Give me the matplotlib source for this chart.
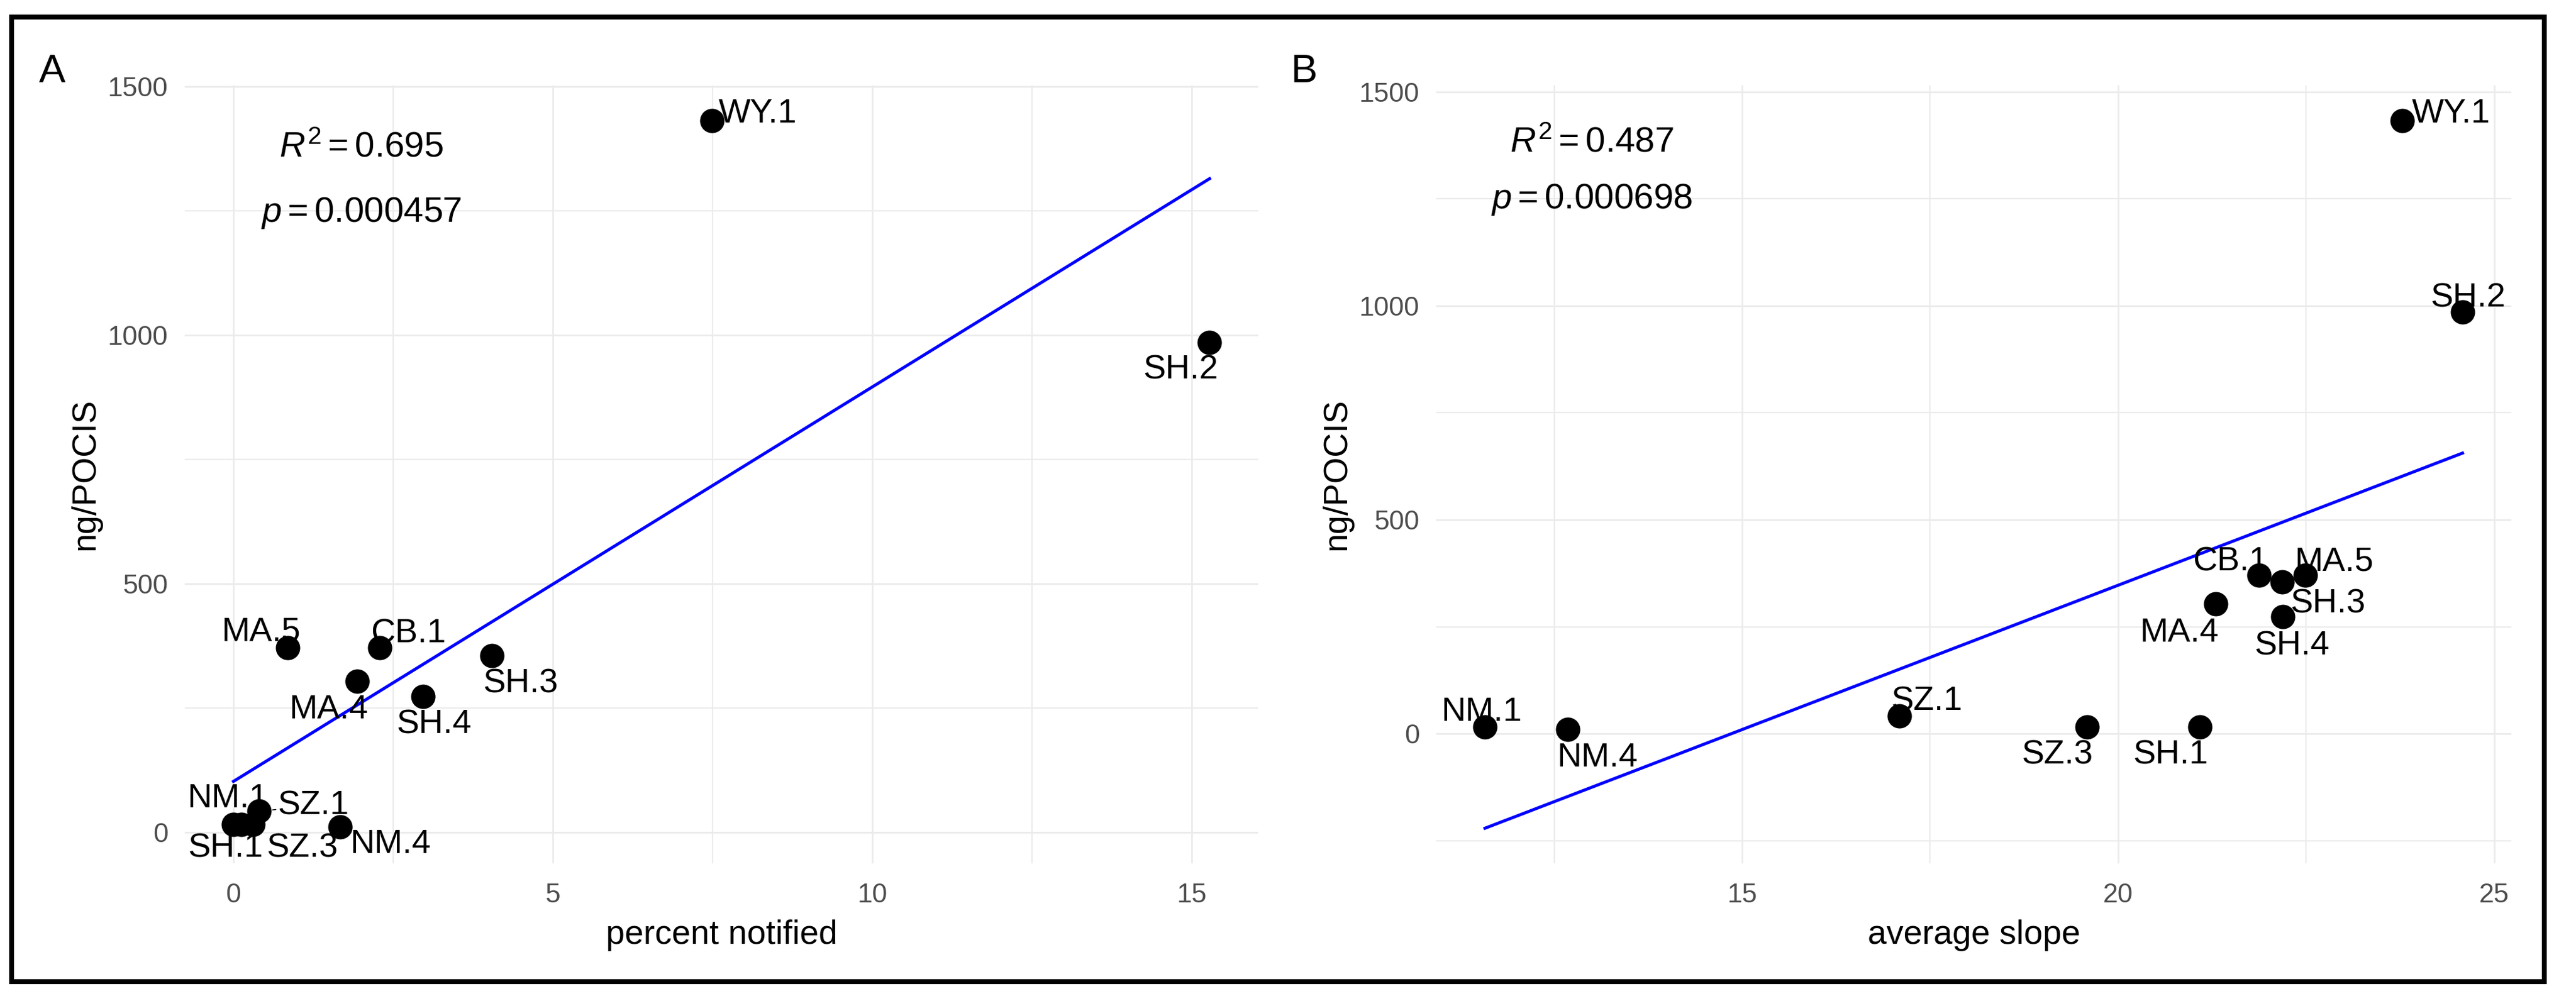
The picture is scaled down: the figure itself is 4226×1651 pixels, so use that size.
import numpy as np
import matplotlib
matplotlib.use("Agg")
import matplotlib.pyplot as plt
from matplotlib.patches import Rectangle

# ---------------- data ----------------
sites = ["WY.1", "SH.2", "MA.5", "CB.1", "MA.4", "SH.4", "SH.3",
         "NM.1", "SH.1", "SZ.3", "SZ.1", "NM.4"]
ng_pocis = [1432, 985, 371, 371, 304, 273, 355, 16, 16, 16, 42, 10]
pct_notified = [7.49, 15.28, 0.85, 2.29, 1.94, 2.97, 4.05, 0.0, 0.12, 0.30, 0.40, 1.67]
avg_slope = [23.78, 24.58, 22.49, 21.87, 21.30, 22.19, 22.18, 11.58, 21.09, 19.59, 17.09, 12.68]

stats_a = ["$R^2 = 0.695$", "$p = 0.000457$"]
stats_b = ["$R^2 = 0.487$", "$p = 0.000698$"]

xticks_a = [0, 5, 10, 15]
xticks_b = [15, 20, 25]
yticks = [0, 500, 1000, 1500]

# label placement (image pixels, centre of label relative to point; +y = down)
offs_a = {"WY.1": (75, -17), "SH.2": (-47, 39), "MA.5": (-44, -32), "CB.1": (47, -29),
          "MA.4": (-47, 41), "SH.4": (18, 40), "SH.3": (47, 40), "NM.1": (-9, -48),
          "SH.1": (-25, 34), "SZ.3": (82, 34), "SZ.1": (89, -15), "NM.4": (83, 23)}
offs_b = {"WY.1": (80, -17), "SH.2": (9, -29), "MA.5": (47, -27), "CB.1": (-47, -27),
          "MA.4": (-60, 42), "SH.4": (15, 42), "SH.3": (75, 31), "NM.1": (-5, -30),
          "SH.1": (-48, 41), "SZ.3": (-49, 41), "SZ.1": (45, -29), "NM.4": (49, 41)}

# ---------------- style ----------------
plt.rcParams['font.family'] = ['Liberation Sans', 'DejaVu Sans']
plt.rcParams['mathtext.fontset'] = 'custom'
plt.rcParams['mathtext.rm'] = 'Liberation Sans'
plt.rcParams['mathtext.it'] = 'Liberation Sans:italic'
plt.rcParams['mathtext.bf'] = 'Liberation Sans:bold'

W, H = 4226, 1651
DPI = 100
fig = plt.figure(figsize=(W / DPI, H / DPI), dpi=DPI, facecolor='white')

grid_col = '#EBEBEB'
tick_col = '#4D4D4D'


def make_panel(rect, xvals, xticks, xminor, yminor, xlim, ylim, xlabel, stats, stat_x, offs, tag, tag_x):
    ax = fig.add_axes(rect)
    ax.set_facecolor('white')
    for s in ax.spines.values():
        s.set_visible(False)
    ax.set_xlim(*xlim)
    ax.set_ylim(*ylim)
    ax.set_xticks(xticks)
    ax.set_yticks(yticks)
    ax.set_xticks(xminor, minor=True)
    ax.set_yticks(yminor, minor=True)
    ax.tick_params(which='both', length=0)
    ax.tick_params(axis='x', pad=23, labelsize=32, labelcolor=tick_col)
    ax.tick_params(axis='y', pad=19.5, labelsize=32, labelcolor=tick_col)
    ax.grid(True, which='major', color=grid_col, linewidth=2.0)
    ax.grid(True, which='minor', color=grid_col, linewidth=1.6)
    ax.set_axisbelow(True)

    x = np.asarray(xvals, float)
    y = np.asarray(ng_pocis, float)
    # linear fit (geom_smooth, method = "lm")
    slope, icpt = np.polyfit(x, y, 1)
    xs = np.array([x.min(), x.max()])
    ax.plot(xs, icpt + slope * xs, color='#0000FF', linewidth=3.6, zorder=2)

    ax.scatter(x, y, s=830, color='black', zorder=3, linewidths=0)

    for name, xi, yi in zip(sites, x, y):
        dx, dy = offs[name]
        kw = {}
        if name == "SZ.1" and tag == "A":
            kw = dict(arrowprops=dict(arrowstyle='-', color='black', lw=1.1,
                                      shrinkA=0, shrinkB=16))
        ax.annotate(name, xy=(xi, yi), xytext=(dx, -(dy + 20)),
                    textcoords='offset pixels', ha='center', va='baseline',
                    fontsize=40, color='black', zorder=4, **kw)

    ax.text(stat_x, 1359, stats[0], ha='center', va='baseline', fontsize=42)
    ax.text(stat_x, 1228, stats[1], ha='center', va='baseline', fontsize=42)

    ax.set_xlabel(xlabel, fontsize=40, va='baseline')
    ax.xaxis.set_label_coords(0.5, -(1549 - 1417) / 1277)
    ax.set_ylabel('ng/POCIS', fontsize=40)
    ax.yaxis.set_label_coords(-0.0775, 0.5)

    fig.text(tag_x / W, 1 - 135 / H, tag, fontsize=47, ha='left', va='baseline')
    return ax


bottom = 1 - 1417 / H
height = 1277 / H

make_panel([303 / W, bottom, 1761 / W, height], pct_notified, xticks_a,
           [2.5, 7.5, 12.5], [250, 750, 1250], (-0.764, 16.04), (-63, 1503),
           'percent notified', stats_a, 2.0, offs_a, 'A', 64)

make_panel([2356 / W, bottom, 1764 / W, height], avg_slope, xticks_b,
           [12.5, 17.5, 22.5], [-250, 250, 750, 1250], (10.93, 25.23), (-303, 1515),
           'average slope', stats_b, 13.0, offs_b, 'B', 2118)

# outer frame
fig.patches.append(Rectangle((19 / W, 1 - 1610.5 / H), (4173.5 - 19) / W, (1610.5 - 28) / H,
                             transform=fig.transFigure, fill=False, edgecolor='black',
                             linewidth=5.8, zorder=10))

fig.savefig('out.png', dpi=DPI, facecolor='white')
